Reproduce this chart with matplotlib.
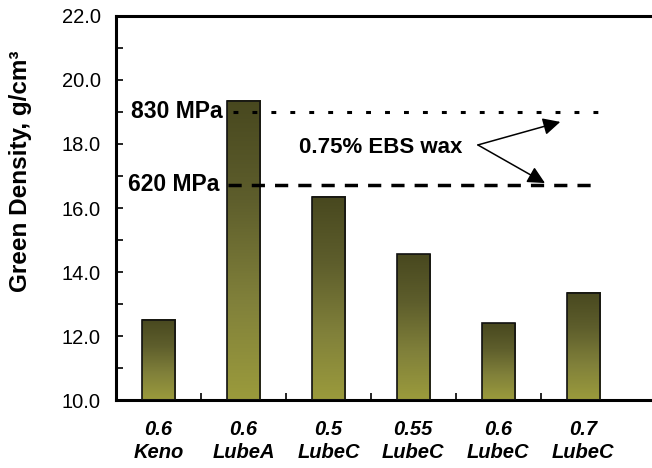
import matplotlib.pyplot as plt
import numpy as np
from matplotlib.colors import LinearSegmentedColormap
from matplotlib.ticker import MultipleLocator

plt.rcParams['font.family'] = ['Liberation Sans', 'DejaVu Sans']

# Données
ratios = ['0.6', '0.6', '0.5', '0.55', '0.6', '0.7']
lubes = ['Keno', 'LubeA', 'LubeC', 'LubeC', 'LubeC', 'LubeC']
density = [12.5, 19.35, 16.35, 14.55, 12.4, 13.35]
ref_830 = 19.0
ref_620 = 16.72

labels = [r + '\n' + l for r, l in zip(ratios, lubes)]
x = np.arange(len(density))
width = 0.39
ymin = 10.0

fig = plt.figure(figsize=(6.52, 4.68), dpi=100)
ax = fig.add_axes([0.178, 0.145, 0.822, 0.821])

# dégradé foncé en haut, olive clair en bas
cmap = LinearSegmentedColormap.from_list('olive', ['#9b9b3c', '#80803a', '#5e5e2c', '#48481f'])
grad = np.linspace(0, 1, 256).reshape(-1, 1)
for xi, h in zip(x, density):
    ax.imshow(grad, cmap=cmap, origin='lower', aspect='auto',
              extent=[xi - width / 2, xi + width / 2, ymin, h], zorder=2)
ax.bar(x, np.array(density) - ymin, width, bottom=ymin, facecolor='none',
       edgecolor='#111111', linewidth=1.2, zorder=3)

# lignes de référence
ax.hlines(ref_830, 0.88, 5.22, colors='black', linestyles=(0, (1.6, 4.6)), linewidth=2.2, zorder=4)
ax.hlines(ref_620, 0.82, 5.16, colors='black', linestyles=(0, (3.8, 2.9)), linewidth=2.5, zorder=4)
ax.text(0.76, ref_830, '830 MPa', ha='right', va='center', fontsize=16.5, fontweight='bold')
ax.text(0.72, ref_620, '620 MPa', ha='right', va='center', fontsize=16.5, fontweight='bold')

ax.text(2.62, 17.9, '0.75% EBS wax', ha='center', va='center', fontsize=16, fontweight='bold')
for tip in [(4.73, 18.69), (4.55, 16.78)]:
    ax.annotate('', xy=tip, xytext=(3.76, 17.97),
                arrowprops=dict(arrowstyle='-|>', color='black', lw=1.1,
                                mutation_scale=26, shrinkA=0, shrinkB=0))

ax.set_xlim(-0.5, 5.81)
ax.set_ylim(10, 22)
ax.yaxis.set_major_locator(MultipleLocator(2))
ax.yaxis.set_minor_locator(MultipleLocator(1))
ax.yaxis.set_major_formatter('{x:.1f}')
ax.tick_params(axis='y', which='both', direction='in', length=5, width=1.2, labelsize=14.5, pad=11)

ax.set_xticks(x)
ax.set_xticklabels(labels, fontsize=14.5, fontweight='bold', fontstyle='italic', linespacing=1.3)
ax.set_xticks(x[:-1] + 0.5, minor=True)
ax.tick_params(axis='x', which='major', length=0, pad=14)
ax.tick_params(axis='x', which='minor', direction='in', length=5, width=1.2)

ax.set_ylabel('Green Density, g/cm³', fontsize=17.5, fontweight='bold')
ax.yaxis.set_label_coords(-0.156, 0.595)
for s in ['left', 'bottom', 'top']:
    ax.spines[s].set_linewidth(2.2)
ax.spines['right'].set_visible(False)

fig.savefig('out.png', dpi=100)
